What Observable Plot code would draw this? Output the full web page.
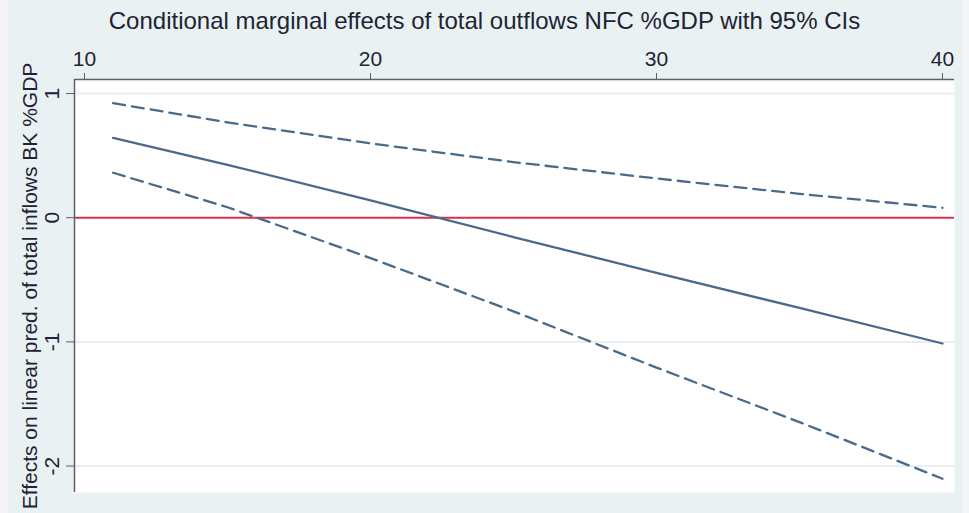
<!DOCTYPE html>
<html>
<head>
<meta charset="utf-8">
<script src="https://cdn.jsdelivr.net/npm/d3@7"></script>
<script src="https://cdn.jsdelivr.net/npm/@observablehq/plot@0.6"></script>
<style>
  html, body { margin: 0; padding: 0; background: #f3f4f5; }
  #wrap { position: relative; width: 969px; height: 513px; overflow: hidden; font-family: "Liberation Sans", Arial, sans-serif; }
  #bg { position: absolute; left: 8px; top: 0; width: 955px; height: 513px; background: #e9f1f3; }
  #title { position: relative; height: 40px; line-height: 42px; text-align: center; font-size: 24px; color: #1e2433; }
  #chart { position: relative; }
</style>
</head>
<body>
<div id="wrap">
  <div id="bg"></div>
  <div id="title"></div>
  <div id="chart"></div>
</div>
<script>
const titleText = "Conditional marginal effects of total outflows NFC %GDP with 95% CIs";
const yLabel = "Effects on linear pred. of total inflows BK %GDP";

const xValues = [11, 15, 20, 25, 30, 35, 40];
const effect  = [0.643, 0.426, 0.140, -0.156, -0.444, -0.727, -1.013];
const upperCI = [0.922, 0.768, 0.598, 0.448, 0.316, 0.192, 0.080];
const lowerCI = [0.362, 0.084, -0.325, -0.754, -1.207, -1.646, -2.102];

const xTicks = [10, 20, 30, 40];
const yTicks = [1, 0, -1, -2];
const refLine = [0];

const xDomain = [9.65, 40.42];
const yDomain = [-2.213, 1.113];

const rows = xValues.map((x, i) => ({x, est: effect[i], hi: upperCI[i], lo: lowerCI[i]}));

document.getElementById("title").textContent = titleText;

const lineColor = "#4a6a8a";
const axisColor = "#5c5f63";
const textColor = "#1e2433";

const chart = Plot.plot({
  width: 969,
  height: 473,
  marginTop: 39,
  marginBottom: 21,
  marginLeft: 74,
  marginRight: 15,
  style: {background: "transparent", fontFamily: "'Liberation Sans', Arial, sans-serif", fontSize: "21px", color: textColor, overflow: "visible"},
  x: {domain: xDomain},
  y: {domain: yDomain},
  marks: [
    Plot.frame({fill: "white", stroke: "none"}),
    Plot.ruleY(yTicks.filter(d => d !== 0), {stroke: "#e6eff1", strokeWidth: 2}),
    Plot.ruleY(refLine, {stroke: "#d8304e", strokeWidth: 2}),
    Plot.line(rows, {x: "x", y: "hi", stroke: lineColor, strokeWidth: 2.3, strokeDasharray: "12,7"}),
    Plot.line(rows, {x: "x", y: "lo", stroke: lineColor, strokeWidth: 2.3, strokeDasharray: "12,7"}),
    Plot.line(rows, {x: "x", y: "est", stroke: lineColor, strokeWidth: 2.3}),
    Plot.ruleX([xDomain[0]], {stroke: axisColor, strokeWidth: 1.5}),
    Plot.ruleY([yDomain[1]], {stroke: axisColor, strokeWidth: 1.5}),
    Plot.axisX(xTicks, {anchor: "top", tickSize: 7, tickPadding: 7, stroke: axisColor, fontSize: 21, fill: textColor, label: null, tickFormat: d => String(d)}),
    Plot.axisY(yTicks, {anchor: "left", tickSize: 8, tickPadding: 8, tickRotate: -90, stroke: axisColor, fontSize: 21, fill: textColor, label: null, tickFormat: d => String(d)}),
    Plot.text([yLabel], {frameAnchor: "left", textAnchor: "middle", rotate: -90, dx: -44, fontSize: 21, fill: textColor})
  ]
});
document.getElementById("chart").appendChild(chart);
</script>
</body>
</html>
